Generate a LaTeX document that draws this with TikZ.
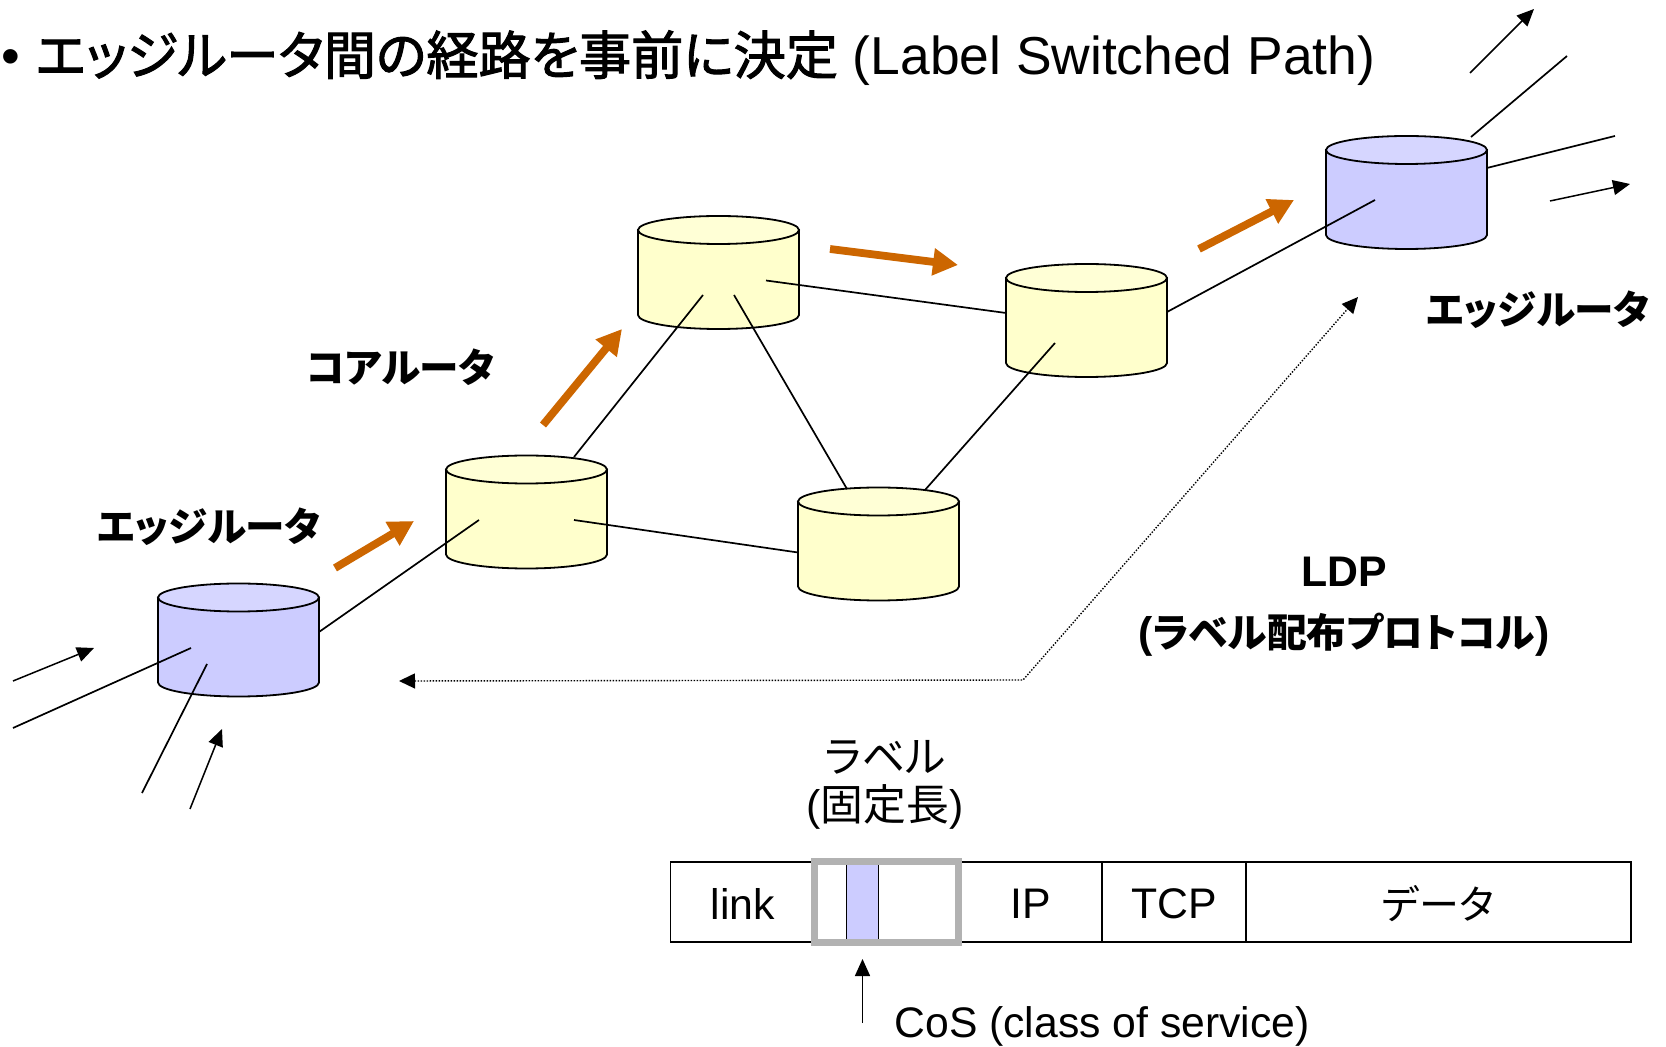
\documentclass[tikz,border=0pt]{standalone}
\usepackage{fontspec}
\usetikzlibrary{arrows.meta,calc}
\setmainfont{Liberation Sans}
\newfontfamily\jpf[RawFeature=+palt]{Noto Sans CJK JP}
\newfontfamily\jpm[RawFeature=+palt,FakeBold=2]{Noto Sans CJK JP}
\newcommand{\fsA}{\fontsize{26.7}{30}\selectfont}
\newcommand{\fsB}{\fontsize{21.4}{26}\selectfont}
\newcommand{\fsC}{\fontsize{19.8}{26}\selectfont}
\definecolor{bluebody}{HTML}{CCCCFF}
\definecolor{bluetop}{HTML}{D6D6FF}
\definecolor{yelbody}{HTML}{FFFFCC}
\definecolor{yeltop}{HTML}{FFFFD6}
\definecolor{orangearrow}{HTML}{CC6600}
\definecolor{labelgrey}{HTML}{B2B2B2}
\tikzset{
  routerbox/.style={minimum width=80.5pt,minimum height=56.5pt,inner sep=0pt,outer sep=0pt},
  cylline/.style={draw=black,line width=0.9pt},
  wire/.style={line width=0.85pt,draw=black},
  flow/.style={line width=0.75pt,draw=black,-{Triangle[length=8.5pt,width=7.5pt]}},
  lsp/.style={line width=3.9pt,draw=orangearrow,-{Triangle[length=12.5pt,width=13pt]}},
  ldpline/.style={line width=0.7pt,draw=black,dash pattern=on 0.7pt off 0.8pt,{Triangle[length=8pt,width=7.5pt]}-{Triangle[length=8pt,width=7.5pt]}},
  cell/.style={draw=black,line width=0.75pt,minimum height=40pt,inner sep=0pt,outer sep=0pt,anchor=west},
  txt/.style={inner sep=0pt,outer sep=0pt,text=black},
  bigjp/.style={txt,font=\fsC\jpf\bfseries},
}
% name, centre, body colour, top colour
\newcommand{\routercyl}[4]{%
  \node[routerbox] (#1) at #2 {};
  \path[cylline,fill=#3] ($(#1.center)+(-80.5,-42.5)$) -- ($(#1.center)+(-80.5,42.5)$)
    arc[start angle=180,end angle=0,x radius=80.5,y radius=14]
    -- ($(#1.center)+(80.5,-42.5)$) -- cycle;
  \path[cylline,fill=#4] ($(#1.center)+(0,-42.5)$) ellipse[x radius=80.5,y radius=14];
}
\begin{document}
\begin{tikzpicture}[x=0.5pt,y=-0.5pt]
\useasboundingbox (0,0) rectangle (1666,1047);
% routers
\routercyl{e1}{(238.5,640)}{bluebody}{bluetop}
\routercyl{ca}{(526.5,512)}{yelbody}{yeltop}
\routercyl{cb}{(718.5,272.5)}{yelbody}{yeltop}
\routercyl{cc}{(1086.5,320.5)}{yelbody}{yeltop}
\routercyl{cd}{(878.5,544)}{yelbody}{yeltop}
\routercyl{e2}{(1406.5,192.5)}{bluebody}{bluetop}
% free ends
\coordinate (e1i) at (191,648);
\coordinate (e1j) at (207,664);
\coordinate (e1s) at (319,632);
\coordinate (inA) at (13,728);
\coordinate (inB) at (142,793);
\coordinate (caw) at (479,520);
\coordinate (can) at (574,457);
\coordinate (cae) at (574,520);
\coordinate (cbs) at (703,295);
\coordinate (cbt) at (734,295);
\coordinate (cbe) at (766,280.5);
\coordinate (ccw) at (1006,313);
\coordinate (ccs) at (1055,343);
\coordinate (cce) at (1167,312);
\coordinate (cdw) at (798,552.5);
\coordinate (cdn) at (847,489);
\coordinate (cdr) at (925,490);
\coordinate (e2w) at (1375,200);
\coordinate (e2n) at (1471,137);
\coordinate (e2e) at (1487,168);
\coordinate (outA) at (1567,56);
\coordinate (outB) at (1615,136);
% links
\draw[wire] (inA) -- (e1i);
\draw[wire] (inB) -- (e1j);
\draw[wire] (e1s) -- (caw);
\draw[wire] (can) -- (cbs);
\draw[wire] (cae) -- (cdw);
\draw[wire] (cbt) -- (cdn);
\draw[wire] (cbe) -- (ccw);
\draw[wire] (cdr) -- (ccs);
\draw[wire] (cce) -- (e2w);
\draw[wire] (e2n) -- (outA);
\draw[wire] (e2e) -- (outB);
% thin flow arrows
\coordinate (f1a) at (13,681); \coordinate (f1b) at (94,648);
\coordinate (f2a) at (190,809); \coordinate (f2b) at (222,729);
\coordinate (f3a) at (1470,73); \coordinate (f3b) at (1534,9);
\coordinate (f4a) at (1550,201); \coordinate (f4b) at (1630,184);
\draw[flow] (f1a) -- (f1b);
\draw[flow] (f2a) -- (f2b);
\draw[flow] (f3a) -- (f3b);
\draw[flow] (f4a) -- (f4b);
% orange path arrows
\coordinate (p1a) at (335,568); \coordinate (p1b) at (414,521);
\coordinate (p2a) at (543,425); \coordinate (p2b) at (622,329);
\coordinate (p3a) at (830,249); \coordinate (p3b) at (958,265);
\coordinate (p4a) at (1199,249); \coordinate (p4b) at (1294,200);
\draw[lsp] (p1a) -- (p1b);
\draw[lsp] (p2a) -- (p2b);
\draw[lsp] (p3a) -- (p3b);
\draw[lsp] (p4a) -- (p4b);
% LDP dotted
\coordinate (la) at (399,681); \coordinate (lm) at (1023,680); \coordinate (lb) at (1358,297);
\draw[ldpline] (la) -- (lm) -- (lb);
% texts
\node[txt,anchor=west,font=\fsA] (title) at (2,58) {•\hspace{7.5pt}{\jpm\fontsize{26.1}{30}\selectfont エッジルータ間の経路を事前に決定} (Label Switched Path)};
\node[bigjp] (t1) at (209,527) {エッジルータ};
\node[bigjp] (t2) at (400.5,367) {コアルータ};
\node[bigjp] (t3) at (1538,309.5) {エッジルータ};
\node[txt,font=\fsB\bfseries,align=center] (t4) at (1344,607) {LDP\\[4.5pt]({\fontsize{19.9}{26}\selectfont\jpf ラベル配布プロトコル})};
\node[txt,font=\fsB,align=center] (t5) at (885,785) {{\jpf ラベル}\\[-2pt]({\jpf 固定長})};
% packet
\node[cell,minimum width=144pt] (pk1) at (670.5,902) {};
\node[cell,minimum width=16pt,fill=bluebody] (pk2) at (846.4,902) {};
\node[cell,minimum width=112pt,draw=none] (pk3) at (878,902) {};
\node[cell,minimum width=72pt] (pk4) at (1102,902) {};
\node[cell,minimum width=192.5pt] (pk5) at (1246,902) {};
\draw[black,line width=0.75pt] (pk1.north west) -- (pk3.north east);
\draw[black,line width=0.75pt] (pk1.south west) -- (pk3.south east);
\node[draw=labelgrey,line width=3.5pt,fill=none,minimum width=72pt,minimum height=40.5pt,inner sep=0pt,outer sep=0pt] (lab) at (886.3,902) {};
\node[txt,font=\fsB] (tl) at (743,903.5) {link};
\node[txt,font=\fsB] (tip) at (1031,903.5) {IP};
\node[txt,font=\fsB] (ttcp) at (1174,903.5) {TCP};
\node[txt,font=\fontsize{20}{26}\selectfont\jpf] (tdata) at (1438,904) {データ};
\coordinate (cosa) at (862.5,1023);
\coordinate (cosb) at (862.5,959);
\draw[flow] (cosa) -- (cosb);
\node[txt,font=\fontsize{21.35}{26}\selectfont,anchor=west] (tcos) at (894.5,1026.5) {CoS (class of service)};
\end{tikzpicture}
\end{document}
